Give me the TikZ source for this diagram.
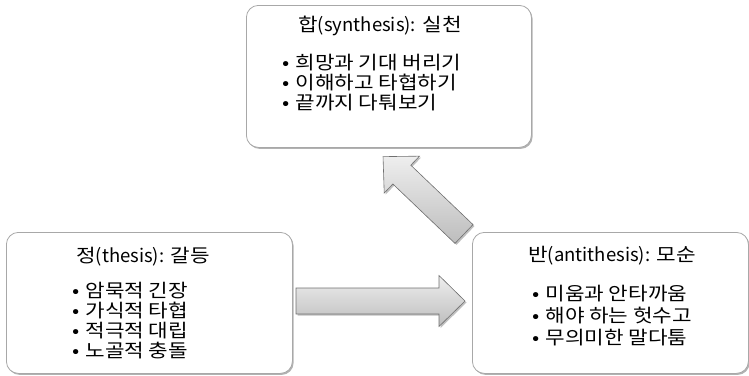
\documentclass[tikz,border=0pt]{standalone}
\usepackage{fontspec}
\setmainfont{Noto Sans CJK KR}[FakeStretch=1.15]
\newfontfamily\latfont{Noto Sans CJK KR}
\usetikzlibrary{shadows}
\definecolor{boxline}{HTML}{A8A8A8}
\definecolor{arrline}{HTML}{707070}
\definecolor{arrtop}{HTML}{EEEEEE}
\definecolor{arrbot}{HTML}{BDBDBD}
\newcommand\hgsize{\fontsize{18.5}{22}\selectfont}
\newcommand\ltsize{\latfont\fontsize{18.5}{22}\selectfont}
\newcommand\blkarrow[3]{%
  \begin{scope}[shift={#1}, rotate=#2]
    \path[blockarrow] (0,-13) -- (#3-26,-13) -- (#3-26,-25.5) -- (#3,0)
      -- (#3-26,25.5) -- (#3-26,13) -- (0,13) -- cycle;
  \end{scope}}
\begin{document}
\begin{tikzpicture}[x=1pt,y=-1pt,
  panel/.style={draw=boxline, line width=0.8pt, rounded corners=12pt, fill=white,
    inner sep=0pt, anchor=north west,
    drop shadow={shadow xshift=1.2pt, shadow yshift=-1.5pt, opacity=0.3, fill=black}},
  ttl/.style={font=\hgsize, inner sep=0pt, text height=15pt, text depth=0pt},
  item/.style={font=\hgsize, inner sep=0pt, anchor=west,
    text height=15pt, text depth=0pt},
  blockarrow/.style={draw=arrline, line width=0.6pt, top color=arrtop, bottom color=arrbot,
    drop shadow={shadow xshift=1.5pt, shadow yshift=-1.5pt, opacity=0.25, fill=black}}
]
\useasboundingbox (0,0) rectangle (749,375);

% boxes
\node[panel, minimum width=285pt, minimum height=142pt] (syn) at (246,5) {};
\node[panel, minimum width=286pt, minimum height=141pt] (the) at (6,232) {};
\node[panel, minimum width=276pt, minimum height=141pt] (ant) at (472,232) {};

% arrows
\coordinate (h1) at (296,301);
\coordinate (d1) at (464,234);
\blkarrow{(h1)}{0}{169}
\blkarrow{(d1)}{136.3}{112}

% top box text
\node[ttl] (synT) at (380,24) {합{\ltsize(synthesis):} 실천};
\node[item] (syn1) at (282,62) {•\hspace{6pt}희망과 기대 버리기};
\node[item] (syn2) at (282,82) {•\hspace{6pt}이해하고 타협하기};
\node[item] (syn3) at (282,102) {•\hspace{6pt}끝까지 다퉈보기};

% left box text
\node[ttl] (theT) at (143,255) {정{\ltsize(thesis):} 갈등};
\node[item] (the1) at (72,290) {•\hspace{6pt}암묵적 긴장};
\node[item] (the2) at (72,310) {•\hspace{6pt}가식적 타협};
\node[item] (the3) at (72,330) {•\hspace{6pt}적극적 대립};
\node[item] (the4) at (72,350) {•\hspace{6pt}노골적 충돌};

% right box text
\node[ttl] (antT) at (612,254) {반{\ltsize(antithesis):} 모순};
\node[item] (ant1) at (532,293) {•\hspace{6pt}미움과 안타까움};
\node[item] (ant2) at (532,315) {•\hspace{6pt}해야 하는 헛수고};
\node[item] (ant3) at (532,337) {•\hspace{6pt}무의미한 말다툼};
\end{tikzpicture}
\end{document}
